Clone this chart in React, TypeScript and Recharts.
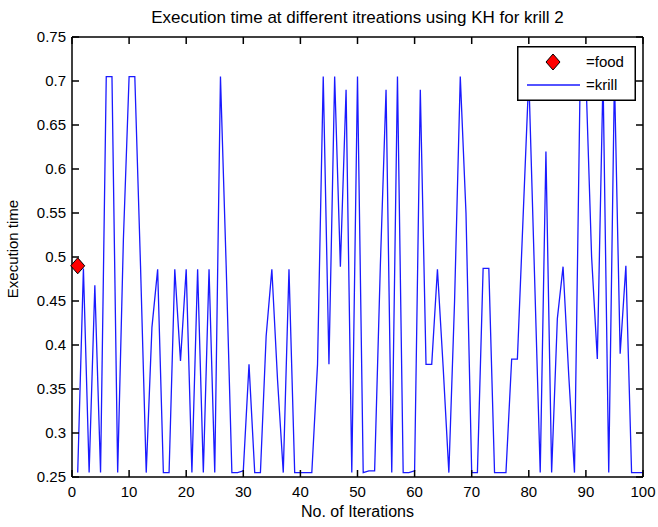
import React from "react";
import { ComposedChart, Legend, Line, Scatter, XAxis, YAxis } from "recharts";

// execution time per iteration
const krillTimes = [
  0.255, 0.487, 0.255, 0.468, 0.255, 0.705, 0.705, 0.255, 0.52, 0.705,
  0.705, 0.49, 0.255, 0.42, 0.486, 0.255, 0.255, 0.486, 0.382, 0.486,
  0.255, 0.486, 0.255, 0.486, 0.255, 0.705, 0.49, 0.255, 0.255, 0.257,
  0.378, 0.255, 0.255, 0.41, 0.486, 0.36, 0.255, 0.486, 0.255, 0.255,
  0.255, 0.255, 0.378, 0.705, 0.378, 0.705, 0.489, 0.69, 0.255, 0.705,
  0.255, 0.257, 0.257, 0.49, 0.69, 0.255, 0.705, 0.255, 0.255, 0.257,
  0.69, 0.378, 0.378, 0.486, 0.375, 0.255, 0.45, 0.705, 0.55, 0.255,
  0.255, 0.487, 0.487, 0.255, 0.255, 0.255, 0.384, 0.384, 0.545, 0.705,
  0.48, 0.255, 0.62, 0.255, 0.43, 0.489, 0.365, 0.255, 0.705, 0.705,
  0.5, 0.384, 0.705, 0.255, 0.705, 0.39, 0.49, 0.255, 0.255, 0.255,
];

const foodIteration = [1];
const foodTime = [0.49];

const xTicks = [0, 10, 20, 30, 40, 50, 60, 70, 80, 90, 100];
const yTicks = [0.25, 0.3, 0.35, 0.4, 0.45, 0.5, 0.55, 0.6, 0.65, 0.7, 0.75];

const title = "Execution time at different itreations using KH for krill 2";

const krillData = krillTimes.map((y, i) => ({ x: i + 1, y }));
const foodData = foodIteration.map((x, i) => ({ x, y: foodTime[i] }));

const font = '"Liberation Sans", Arial, Helvetica, sans-serif';
const krillColor = "#1a1aff";
const TICK = 7; // inward tick length, matlab style
const TICK_FONT = 15;
const axisLine = { stroke: "#000", strokeWidth: 1.5 };

const fmtY = (v: number) => String(Number(v.toFixed(2)));

// matlab draws ticks pointing into the plot on all four sides
const BOTTOM_GAP = 10;
const LEFT_GAP = 6;

function BottomTick({ x, y, payload }: any) {
  const axisY = y - BOTTOM_GAP;
  return (
    <g>
      <line x1={x} x2={x} y1={axisY} y2={axisY - TICK} stroke="#000" strokeWidth={1.5} />
      <text x={x} y={y + 10} textAnchor="middle" fontSize={TICK_FONT} fontFamily={font} fill="#000">
        {payload.value}
      </text>
    </g>
  );
}

function LeftTick({ x, y, payload }: any) {
  const axisX = x + LEFT_GAP;
  return (
    <g>
      <line x1={axisX} x2={axisX + TICK} y1={y} y2={y} stroke="#000" strokeWidth={1.5} />
      <text x={x} y={y} dy="0.35em" textAnchor="end" fontSize={TICK_FONT} fontFamily={font} fill="#000">
        {fmtY(payload.value)}
      </text>
    </g>
  );
}

function TopTick({ x, y }: any) {
  return <line x1={x} x2={x} y1={y} y2={y + TICK} stroke="#000" strokeWidth={1.5} />;
}

function RightTick({ x, y }: any) {
  return <line x1={x} x2={x - TICK} y1={y} y2={y} stroke="#000" strokeWidth={1.5} />;
}

function Diamond(props: any) {
  const { cx, cy } = props;
  if (cx == null || cy == null) return null;
  const w = 7;
  const h = 8;
  return (
    <polygon
      points={`${cx},${cy - h} ${cx + w},${cy} ${cx},${cy + h} ${cx - w},${cy}`}
      fill="#ff0000"
      stroke="#000"
      strokeWidth={1}
    />
  );
}

const legendOrder = ["food", "krill"];

function LegendBox({ payload }: any) {
  const items = [...(payload || [])].sort(
    (a: any, b: any) => legendOrder.indexOf(a.value) - legendOrder.indexOf(b.value)
  );
  return (
    <svg width={119} height={55} style={{ display: "block" }}>
      <rect x={0.75} y={0.75} width={117.5} height={53.5} fill="#fff" stroke="#000" strokeWidth={1.5} />
      {items.map((item: any, i: number) => {
        const cy = 16 + i * 23;
        return (
          <g key={item.value}>
            {item.value === "food" ? (
              <Diamond cx={36} cy={cy} />
            ) : (
              <line x1={10} y1={cy} x2={63} y2={cy} stroke={krillColor} strokeWidth={1.3} />
            )}
            <text x={69} y={cy} dy="0.35em" fontSize={15} fontFamily={font} fill="#000">
              {"=" + item.value}
            </text>
          </g>
        );
      })}
    </svg>
  );
}

export default function App() {
  return (
    <div
      style={{
        position: "absolute",
        left: 0,
        top: 0,
        width: 658,
        height: 527,
        background: "#fff",
      }}
    >
      <div
        style={{
          position: "absolute",
          left: 72,
          width: 571,
          top: 8,
          textAlign: "center",
          fontFamily: font,
          fontSize: 17,
          lineHeight: "20px",
          color: "#000",
        }}
      >
        {title}
      </div>
      <ComposedChart
        width={658}
        height={527}
        margin={{ top: 36, right: 14, bottom: 20, left: 0 }}
      >
        <XAxis
          dataKey="x"
          type="number"
          domain={[0, 100]}
          ticks={xTicks}
          height={30}
          tickSize={0}
          tickLine={false}
          tickMargin={BOTTOM_GAP}
          tick={BottomTick}
          axisLine={axisLine}
          interval={0}
          label={{
            value: "No. of Iterations",
            position: "bottom",
            offset: -1,
            style: { fontSize: 16, fill: "#000", fontFamily: font },
          }}
        />
        <XAxis
          xAxisId="top"
          dataKey="x"
          orientation="top"
          type="number"
          domain={[0, 100]}
          ticks={xTicks}
          height={1}
          tickSize={0}
          tickLine={false}
          tickMargin={0}
          tick={TopTick}
          axisLine={axisLine}
          interval={0}
        />
        <YAxis
          dataKey="y"
          type="number"
          domain={[0.25, 0.75]}
          ticks={yTicks}
          width={72}
          tickSize={0}
          tickLine={false}
          tickMargin={LEFT_GAP}
          tick={LeftTick}
          axisLine={axisLine}
          interval={0}
          label={{
            value: "Execution time",
            angle: -90,
            position: "insideLeft",
            offset: 13,
            dy: -8,
            style: { fontSize: 15, fill: "#000", fontFamily: font, textAnchor: "middle" },
          }}
        />
        <YAxis
          yAxisId="right"
          dataKey="y"
          orientation="right"
          type="number"
          domain={[0.25, 0.75]}
          ticks={yTicks}
          width={1}
          tickSize={0}
          tickLine={false}
          tickMargin={0}
          tick={RightTick}
          axisLine={axisLine}
          interval={0}
        />
        <Legend
          layout="vertical"
          align="center"
          verticalAlign="middle"
          content={<LegendBox />}
          wrapperStyle={{ left: 517, top: 46, width: 119, height: 55 }}
        />
        <Scatter
          name="food"
          data={foodData}
          dataKey="y"
          xAxisId="top"
          yAxisId="right"
          fill="#ff0000"
          shape={<Diamond />}
          isAnimationActive={false}
        />
        <Line
          name="krill"
          data={krillData}
          dataKey="y"
          type="linear"
          stroke={krillColor}
          strokeWidth={1.3}
          dot={false}
          activeDot={false}
          isAnimationActive={false}
        />
      </ComposedChart>
    </div>
  );
}
